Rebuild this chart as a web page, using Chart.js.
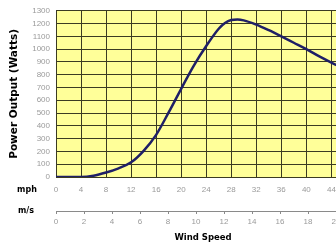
<!DOCTYPE html>
<html>
<head>
<meta charset="utf-8">
<title>Power Output vs Wind Speed</title>
<script src="https://cdn.jsdelivr.net/npm/chart.js@4.4.1/dist/chart.umd.min.js"></script>
<style>
  html, body { margin: 0; padding: 0; background: #fff; overflow: hidden; }
  #wrap { width: 352px; height: 243px; }
</style>
</head>
<body>
<div id="wrap"><canvas id="powerChart" width="352" height="243"></canvas></div>
<script>
// Power curve: wind speed (mph) -> output (watts)
const windMph = [0, 4, 6, 8, 10, 12, 14, 16, 18, 20, 22, 24, 26, 27, 28, 29, 30, 32, 34, 36, 38, 40, 42, 44, 46];
const powerWatts = [0, 0, 10, 35, 68, 115, 205, 330, 505, 690, 870, 1025, 1160, 1205, 1228, 1232, 1225, 1192, 1148, 1100, 1050, 1000, 945, 895, 850];

// Tick labels
const mphTicks = [0, 4, 8, 12, 16, 20, 24, 28, 32, 36, 40, 44];
const msTicks = [0, 2, 4, 6, 8, 10, 12, 14, 16, 18, 20];
const wattTicks = [0, 100, 200, 300, 400, 500, 600, 700, 800, 900, 1000, 1100, 1200, 1300];

const MPH_TO_MS = 0.44704;
const msMax = 21;
const mphMax = msMax / MPH_TO_MS;

const tickFont = { family: 'Liberation Sans, Arial, sans-serif', size: 8 };
const tickGray = '#9a9a9a';
const boldFont = 'DejaVu Sans, Verdana, sans-serif';

// yellow plot background, painted before the grid
const plotBackground = {
    id: 'plotBackground',
    beforeDraw(chart) {
        const { ctx, chartArea } = chart;
        ctx.save();
        ctx.fillStyle = '#ffff99';
        ctx.fillRect(chartArea.left, chartArea.top, chartArea.right - chartArea.left, chartArea.bottom - chartArea.top);
        ctx.restore();
    }
};

// the "mph" / "m/s" row captions on the left
const unitCaptions = {
    id: 'unitCaptions',
    afterDraw(chart) {
        const ctx = chart.ctx;
        ctx.save();
        ctx.fillStyle = '#000';
        ctx.font = 'bold 8px ' + boldFont;
        ctx.textAlign = 'center';
        ctx.textBaseline = 'middle';
        ctx.fillText('mph', 27, chart.scales.x.top + 13);
        ctx.fillText('m/s', 26, chart.scales.x2.top - 0.5);
        ctx.restore();
    }
};

const ctx = document.getElementById('powerChart');

new Chart(ctx, {
    type: 'line',
    data: {
        datasets: [{
            data: windMph.map((m, i) => ({ x: m, y: powerWatts[i] })),
            borderColor: '#1f1f66',
            borderWidth: 2.5,
            pointRadius: 0,
            fill: false,
            cubicInterpolationMode: 'monotone'
        }]
    },
    options: {
        responsive: false,
        animation: false,
        devicePixelRatio: 1,
        layout: { padding: { top: 9, right: 2, bottom: 0, left: 0 } },
        plugins: {
            legend: { display: false },
            tooltip: { enabled: false }
        },
        scales: {
            y: {
                min: 0,
                max: 1300,
                afterBuildTicks: s => { s.ticks = wattTicks.map(v => ({ value: v })); },
                afterFit: s => { s.width = 56; },
                ticks: { font: tickFont, color: tickGray, padding: 6, callback: v => String(v) },
                grid: { color: '#3b3b22', lineWidth: 1, drawTicks: false },
                border: { display: false },
                title: {
                    display: true,
                    text: 'Power Output (Watts)',
                    color: '#000',
                    font: { family: boldFont, size: 10.5, weight: 'bold' },
                    padding: { top: 8, bottom: 0 }
                }
            },
            x: {
                type: 'linear',
                position: 'bottom',
                weight: 0,
                min: 0,
                max: mphMax,
                afterBuildTicks: s => { s.ticks = mphTicks.map(v => ({ value: v })); },
                afterFit: s => { s.height = 34; },
                ticks: { font: tickFont, color: tickGray, padding: 8, maxRotation: 0, callback: v => String(v) },
                grid: { color: '#3b3b22', lineWidth: 1, drawTicks: false },
                border: { display: false }
            },
            x2: {
                type: 'linear',
                position: 'bottom',
                weight: 1,
                min: 0,
                max: msMax,
                afterBuildTicks: s => { s.ticks = msTicks.map(v => ({ value: v })); },
                afterFit: s => { s.height = 32; },
                ticks: { font: tickFont, color: tickGray, padding: 3, maxRotation: 0, callback: v => String(v) },
                grid: { drawOnChartArea: false, color: '#8a8a8a', tickLength: 3 },
                border: { display: true, color: '#8a8a8a', width: 1 },
                title: {
                    display: true,
                    text: 'Wind Speed',
                    color: '#000',
                    font: { family: boldFont, size: 8.5, weight: 'bold' },
                    padding: { top: 0, bottom: 0 }
                }
            }
        }
    },
    plugins: [plotBackground, unitCaptions]
});
</script>
</body>
</html>
